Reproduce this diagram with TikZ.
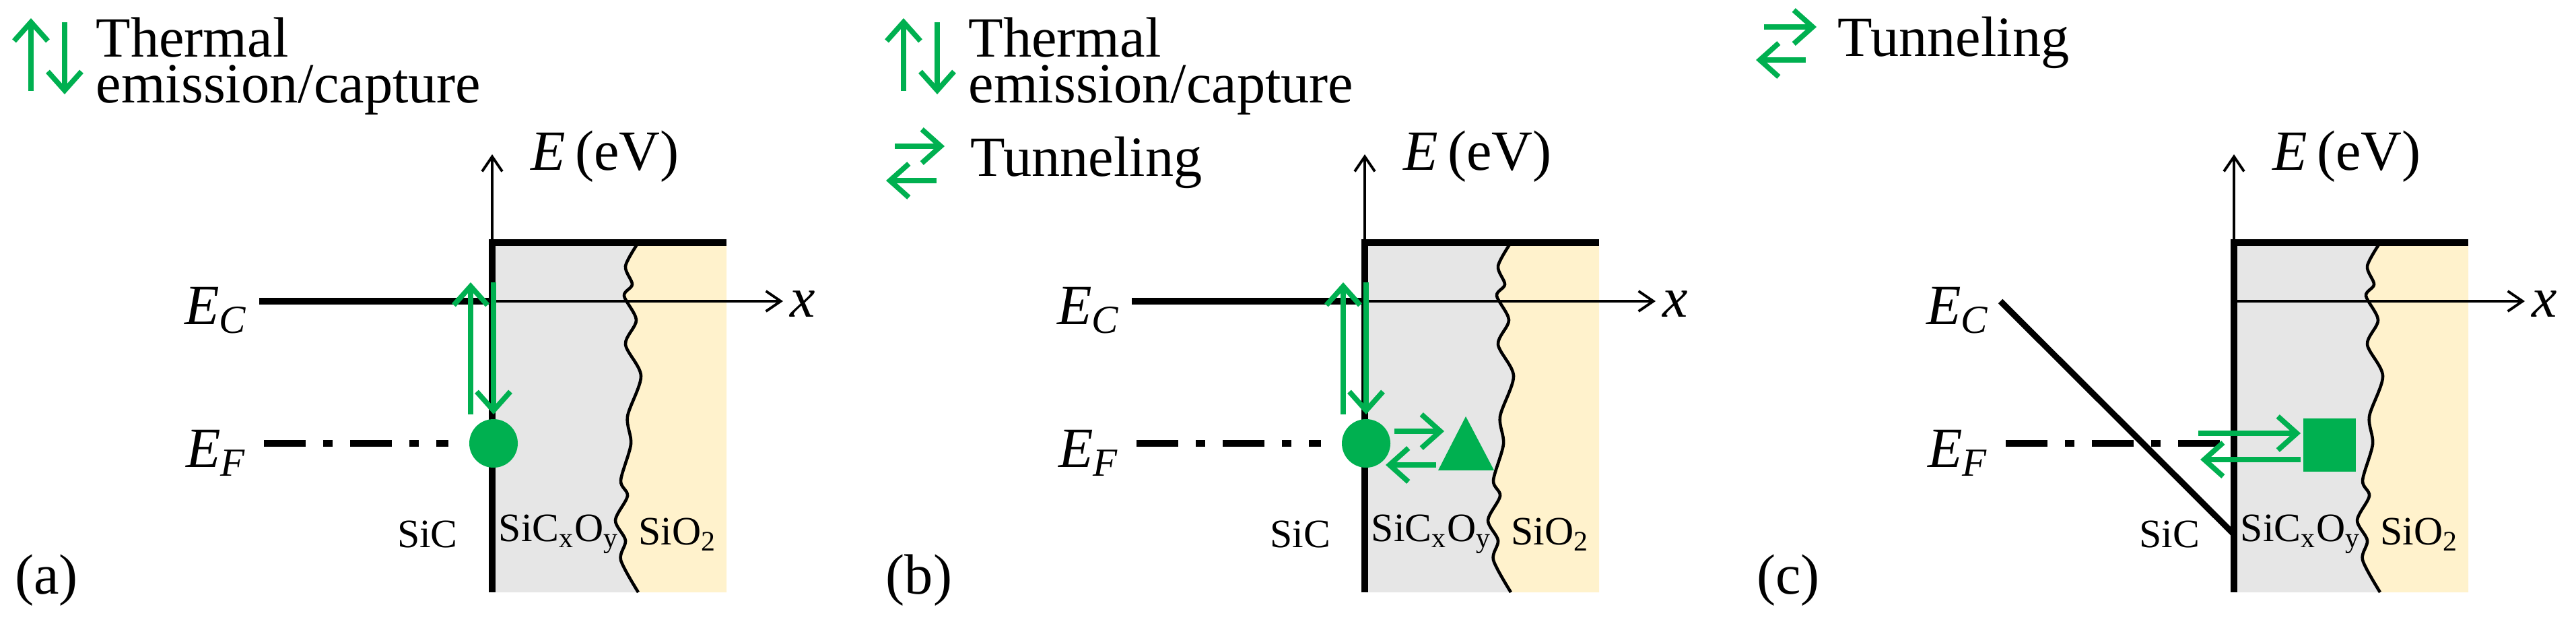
\documentclass[tikz,border=0pt]{standalone}
\usepackage{fontspec}
\setmainfont{Liberation Serif}
\usetikzlibrary{arrows.meta}
\definecolor{trapgreen}{HTML}{00B050}
\definecolor{ilgray}{HTML}{E6E6E6}
\definecolor{oxyellow}{HTML}{FFF2CC}
\tikzset{
	big/.style={font=\fontsize{24}{19.3}\selectfont},
	small/.style={font=\fontsize{17}{18}\selectfont},
	axis/.style={line width=1.1pt, -{Straight Barb[length=0.22cm,width=0.3cm]}},
	band/.style={line width=2.6pt},
	garrow/.style={trapgreen, line width=2.2pt, -{Straight Barb[length=0.28cm,width=0.5cm]}},
}
\newcommand{\ital}[2]{\textit{#1}\textsubscript{\textit{#2}}}
% common band diagram (box, axes, layer labels)
\newcommand{\bandbox}{%
	\fill[ilgray] (0,0.52) -- (0,5.71) -- (2.17,5.71) -- plot[smooth] coordinates {(2.17,5.71) (1.98,5.36) (2.08,5.09) (1.96,4.92) (2.14,4.56) (1.98,4.20) (2.21,3.73) (2.01,3.13) (2.06,2.72) (1.91,2.18) (2.01,1.95) (1.83,1.59) (1.98,1.29) (1.91,1.00) (2.17,0.52)} -- cycle;
	\fill[oxyellow] (3.48,0.52) -- (3.48,5.71) -- (2.17,5.71) -- plot[smooth] coordinates {(2.17,5.71) (1.98,5.36) (2.08,5.09) (1.96,4.92) (2.14,4.56) (1.98,4.20) (2.21,3.73) (2.01,3.13) (2.06,2.72) (1.91,2.18) (2.01,1.95) (1.83,1.59) (1.98,1.29) (1.91,1.00) (2.17,0.52)} -- cycle;
	\draw[line width=1.3pt] plot[smooth] coordinates {(2.17,5.71) (1.98,5.36) (2.08,5.09) (1.96,4.92) (2.14,4.56) (1.98,4.20) (2.21,3.73) (2.01,3.13) (2.06,2.72) (1.91,2.18) (2.01,1.95) (1.83,1.59) (1.98,1.29) (1.91,1.00) (2.17,0.52)};
	\coordinate (o) at (0,0.52);
	\coordinate (ytop) at (0,7.02);
	\coordinate (xo) at (0,4.84);
	\coordinate (xend) at (4.32,4.84);
	\coordinate (bl) at (0,5.71);
	\coordinate (br) at (3.48,5.71);
	\draw[axis] (o) -- (ytop);
	\draw[axis] (xo) -- (xend);
	\draw[band] (0,0.52) -- (bl) -- (br);
	\node[big, right] (elab) at (0.45,6.99) {\textit{E}\,(eV)};
	\node[big, right] (xlab) at (4.30,4.80) {\textit{x}};
	\node[small] (sic) at (-0.96,1.38) {SiC};
	\node[small] (sicxoy) at (0.99,1.38) {SiC\textsubscript{x}O\textsubscript{y}};
	\node[small] (sio) at (2.75,1.38) {SiO\textsubscript{2}};
}
\begin{document}
\begin{tikzpicture}
	\useasboundingbox (0,0) rectangle (38.26,9.31);

	% (a)
	\begin{scope}[xshift=7.31cm]
		\bandbox
		\node[big] (eca) at (-4.1,4.70) {\ital{E}{C}};
		\node[big] (efa) at (-4.1,2.59) {\ital{E}{F}};
		\coordinate (ec1) at (-3.46,4.84);
		\draw[band] (ec1) -- (xo);
		\coordinate (ef1) at (-3.39,2.73);
		\coordinate (ef2) at (-0.65,2.73);
		\draw[band, dash pattern=on 0.62cm off 0.26cm on 0.14cm off 0.26cm] (ef1) -- (ef2);
		\node[circle, fill=trapgreen, minimum size=0.72cm, inner sep=0] (trapa) at (0.02,2.73) {};
		\coordinate (upa1) at (-0.32,3.16);
		\coordinate (upa2) at (-0.32,5.12);
		\coordinate (dna1) at (0.02,5.12);
		\coordinate (dna2) at (0.02,3.16);
		\draw[garrow] (upa1) -- (upa2);
		\draw[garrow] (dna1) -- (dna2);
		\node[big] (laba) at (-6.62,0.70) {(a)};
		% legend
		\coordinate (lu1) at (-6.85,7.96);
		\coordinate (lu2) at (-6.85,9.04);
		\coordinate (ld1) at (-6.35,8.98);
		\coordinate (ld2) at (-6.35,7.91);
		\draw[garrow] (lu1) -- (lu2);
		\draw[garrow] (ld1) -- (ld2);
		\node[big, anchor=north west, align=left, inner sep=0] (thermala) at (-5.89,9.06) {Thermal\\emission/capture};
	\end{scope}

	% (b)
	\begin{scope}[xshift=20.27cm]
		\bandbox
		\node[big] (ecb) at (-4.1,4.70) {\ital{E}{C}};
		\node[big] (efb) at (-4.1,2.59) {\ital{E}{F}};
		\coordinate (ec1) at (-3.46,4.84);
		\draw[band] (ec1) -- (xo);
		\coordinate (ef1) at (-3.39,2.73);
		\coordinate (ef2) at (-0.65,2.73);
		\draw[band, dash pattern=on 0.62cm off 0.26cm on 0.14cm off 0.26cm] (ef1) -- (ef2);
		\node[circle, fill=trapgreen, minimum size=0.72cm, inner sep=0] (trapb) at (0.02,2.73) {};
		\fill[trapgreen] (1.09,2.33) -- (1.50,3.13) -- (1.92,2.33) -- cycle;
		\coordinate (upb1) at (-0.32,3.16);
		\coordinate (upb2) at (-0.32,5.12);
		\coordinate (dnb1) at (0.02,5.12);
		\coordinate (dnb2) at (0.02,3.16);
		\draw[garrow] (upb1) -- (upb2);
		\draw[garrow] (dnb1) -- (dnb2);
		\coordinate (tr1) at (0.44,2.91);
		\coordinate (tr2) at (1.18,2.91);
		\coordinate (tl1) at (1.06,2.41);
		\coordinate (tl2) at (0.31,2.41);
		\draw[garrow] (tr1) -- (tr2);
		\draw[garrow] (tl1) -- (tl2);
		\node[big] (labb) at (-6.62,0.70) {(b)};
		% legend
		\coordinate (lu1) at (-6.85,7.96);
		\coordinate (lu2) at (-6.85,9.04);
		\coordinate (ld1) at (-6.35,8.98);
		\coordinate (ld2) at (-6.35,7.91);
		\draw[garrow] (lu1) -- (lu2);
		\draw[garrow] (ld1) -- (ld2);
		\node[big, anchor=north west, align=left, inner sep=0] (thermalb) at (-5.89,9.06) {Thermal\\emission/capture};
		\coordinate (lr1) at (-6.98,7.14);
		\coordinate (lr2) at (-6.24,7.14);
		\coordinate (ll1) at (-6.36,6.63);
		\coordinate (ll2) at (-7.11,6.63);
		\draw[garrow] (lr1) -- (lr2);
		\draw[garrow] (ll1) -- (ll2);
		\node[big, anchor=base west, inner sep=0] (tunnelb) at (-5.86,6.70) {Tunneling};
	\end{scope}

	% (c)
	\begin{scope}[xshift=33.18cm]
		\bandbox
		\node[big] (ecc) at (-4.1,4.70) {\ital{E}{C}};
		\node[big] (efc) at (-4.1,2.59) {\ital{E}{F}};
		\coordinate (ec1) at (-3.47,4.84);
		\coordinate (ec2) at (0,1.38);
		\draw[band] (ec1) -- (ec2);
		\coordinate (ef1) at (-3.39,2.73);
		\coordinate (ef2) at (0,2.73);
		\draw[band, dash pattern=on 0.62cm off 0.26cm on 0.14cm off 0.26cm] (ef1) -- (ef2);
		\node[fill=trapgreen, minimum width=0.78cm, minimum height=0.79cm, inner sep=0] (trapc) at (1.42,2.71) {};
		\coordinate (tr1) at (-0.53,2.88);
		\coordinate (tr2) at (0.99,2.88);
		\coordinate (tl1) at (0.99,2.49);
		\coordinate (tl2) at (-0.50,2.49);
		\draw[garrow] (tr1) -- (tr2);
		\draw[garrow] (tl1) -- (tl2);
		\node[big] (labc) at (-6.62,0.70) {(c)};
		% legend
		\coordinate (lr1) at (-6.98,8.91);
		\coordinate (lr2) at (-6.20,8.91);
		\coordinate (ll1) at (-6.36,8.42);
		\coordinate (ll2) at (-7.10,8.42);
		\draw[garrow] (lr1) -- (lr2);
		\draw[garrow] (ll1) -- (ll2);
		\node[big, anchor=base west, inner sep=0] (tunnelc) at (-5.89,8.48) {Tunneling};
	\end{scope}
\end{tikzpicture}
\end{document}
